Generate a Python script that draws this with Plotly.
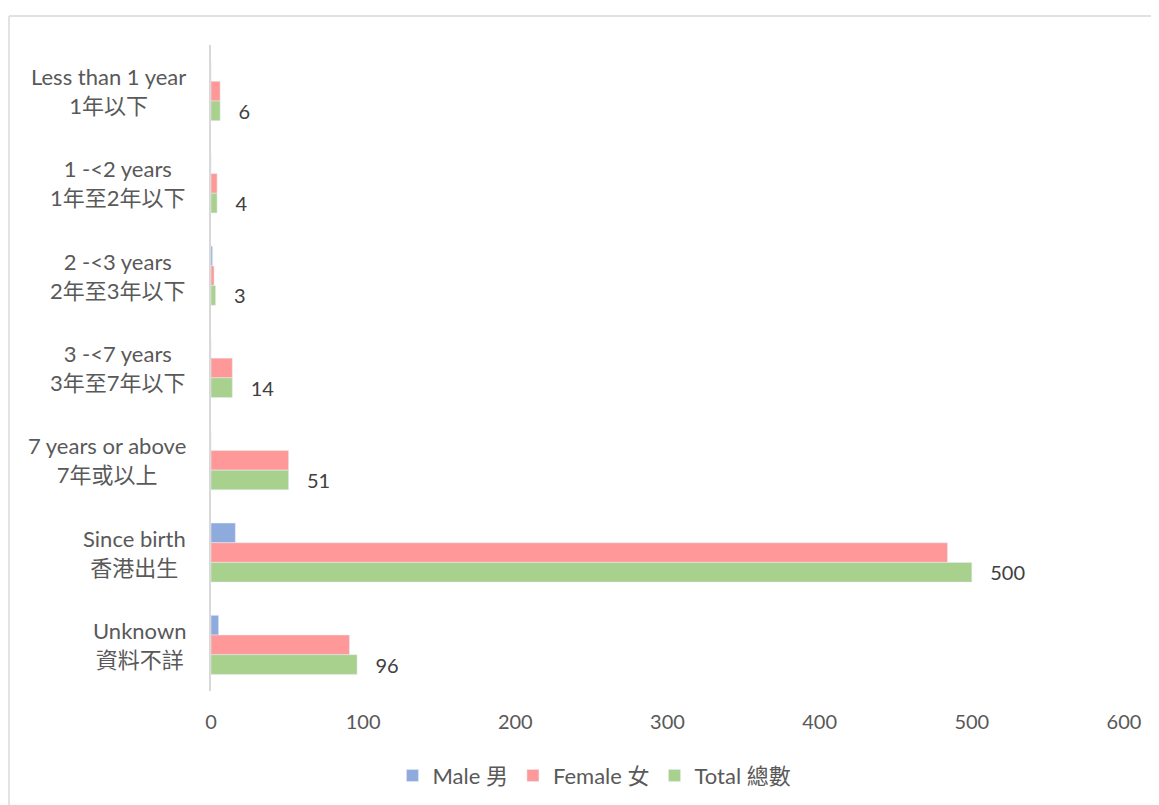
import plotly.graph_objects as go

categories_en = ["Less than 1 year", "1 -<2 years", "2 -<3 years", "3 -<7 years",
                 "7 years or above", "Since birth", "Unknown"]
categories_zh = ["1年以下", "1年至2年以下", "2年至3年以下", "3年至7年以下",
                 "7年或以上", "香港出生", "資料不詳"]
male = [0, 0, 1, 0, 0, 16, 5]
female = [6, 4, 2, 14, 51, 484, 91]
total = [6, 4, 3, 14, 51, 500, 96]
x_ticks = [0, 100, 200, 300, 400, 500, 600]

cats = [f"{e}<br>{z}" for e, z in zip(categories_en, categories_zh)]
FONT = "Lato, 'Noto Sans CJK TC', sans-serif"
TXT = "#595959"

fig = go.Figure()
fig.add_trace(go.Bar(y=cats, x=male, orientation="h", name="Male 男",
                     marker_color="#8faadc"))
fig.add_trace(go.Bar(y=cats, x=female, orientation="h", name="Female 女",
                     marker_color="#ff9999"))
fig.add_trace(go.Bar(y=cats, x=total, orientation="h", name="Total 總數",
                     marker_color="#a9d18e",
                     text=["   " + str(v) for v in total], textposition="outside",
                     constraintext="none",
                     textfont=dict(size=20, color="#404040", family=FONT),
                     cliponaxis=False))

for c in cats:
    fig.add_annotation(x=0, xref="paper", y=c, yref="y", text=c, showarrow=False,
                       xanchor="right", xshift=-23, align="center",
                       font=dict(size=22, color=TXT, family=FONT))

fig.update_layout(
    width=1159, height=805,
    margin=dict(l=203, r=43, t=37, b=122),
    paper_bgcolor="white", plot_bgcolor="white",
    barmode="group", bargap=0.36, bargroupgap=0,
    font=dict(family=FONT, color=TXT),
    xaxis=dict(range=[0, 600], tickvals=x_ticks, showgrid=False, zeroline=False,
               showline=False, ticks="", tickfont=dict(size=20, color=TXT),
               ticklabelstandoff=17),
    yaxis=dict(autorange="reversed", showticklabels=False, ticks="",
               showline=True, linecolor="#d9d9d9", linewidth=2, showgrid=False),
    legend=dict(orientation="h", x=0.42, xanchor="center", y=-0.131, yanchor="middle",
                font=dict(size=22, color=TXT, family=FONT), traceorder="normal"),
    showlegend=True,
)
fig.add_shape(type="line", xref="paper", yref="paper", x0=-0.2212, x1=1.1,
              y0=1.0449, y1=1.0449, line=dict(color="#d9d9d9", width=1.5))
fig.add_shape(type="line", xref="paper", yref="paper", x0=-0.2212, x1=-0.2212,
              y0=1.0449, y1=-0.2, line=dict(color="#d9d9d9", width=1.5))

fig.write_html("out.html")
